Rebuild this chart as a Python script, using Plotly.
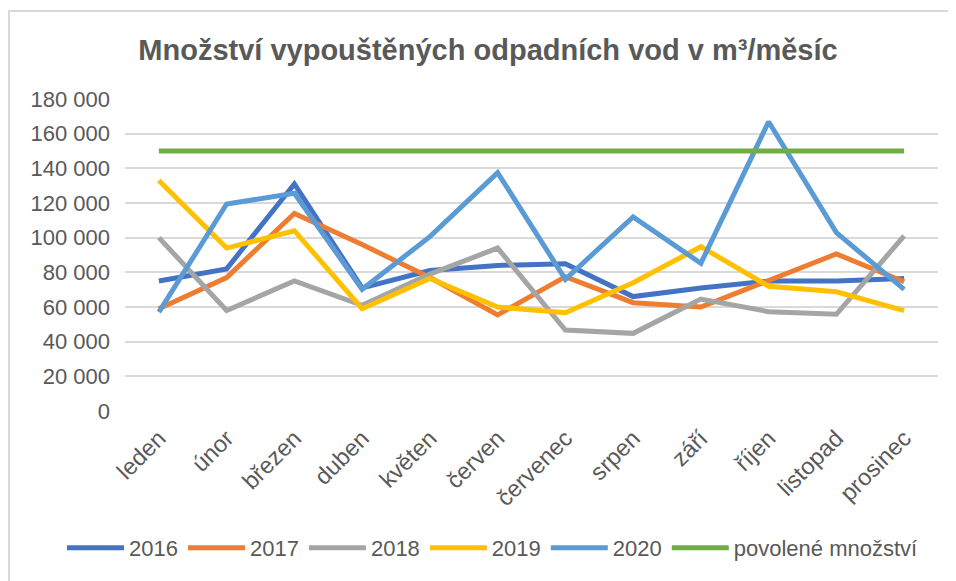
import plotly.graph_objects as go

months = ["leden", "únor", "březen", "duben", "květen", "červen",
          "červenec", "srpen", "září", "říjen", "listopad", "prosinec"]

v2016 = [75000, 82000, 131000, 71000, 81000, 84000, 85000, 66000, 71000, 75000, 75000, 76500]
v2017 = [59000, 77000, 114000, 96000, 77000, 55400, 77500, 62500, 60000, 75600, 90600, 74600]
v2018 = [100000, 58000, 75000, 61000, 79000, 94000, 46700, 44800, 64600, 57300, 55800, 101000]
v2019 = [133000, 94000, 104000, 59000, 76500, 60000, 56700, 74000, 94800, 72000, 68800, 57900]
v2020 = [57000, 119400, 125600, 70200, 100600, 137500, 76000, 112000, 85200, 166900, 102900, 70200]
limit = [150000] * 12

series_names = ["2016", "2017", "2018", "2019", "2020", "povolené množství"]
series_values = [v2016, v2017, v2018, v2019, v2020, limit]
series_colors = ["#4472C4", "#ED7D31", "#A5A5A5", "#FFC000", "#5B9BD5", "#70AD47"]

# page offset of the figure (default body margin)
OFF = 8
W, H = 956, 581
PW, PH = 813, 312
ML, MT = 125 - OFF, 99 - OFF
MR = W - ML - PW
MB = H - MT - PH

fig = go.Figure()
for name, vals, col in zip(series_names, series_values, series_colors):
    fig.add_trace(go.Scatter(
        x=months, y=vals, name=name, mode="lines",
        line=dict(color=col, width=5),
    ))

txt = "#595959"
font_family = "Liberation Sans, Arial, sans-serif"
border = "#D9D9D9"

fig.update_layout(
    width=W, height=H,
    margin=dict(l=ML, r=MR, t=MT, b=MB, autoexpand=False),
    paper_bgcolor="white", plot_bgcolor="white",
    separators=", ",
    font=dict(family=font_family, color=txt),
    title=dict(
        text="<b>Množství vypouštěných odpadních vod v m³/měsíc</b>",
        x=(488 - OFF) / W, xanchor="center", xref="container",
        y=1 - (50 - OFF) / H, yanchor="middle", yref="container",
        font=dict(size=29, color=txt, family=font_family),
    ),
    xaxis=dict(
        type="category", range=[-0.5, 11.5],
        showgrid=False, zeroline=False, showline=False,
        tickangle=-45, tickfont=dict(size=23.5, color=txt),
        ticks="", ticklabelstandoff=8,
    ),
    yaxis=dict(
        range=[0, 180000], dtick=20000, tick0=0,
        showgrid=True, gridcolor="#D9D9D9", gridwidth=1.5,
        zeroline=False, showline=False,
        tickformat=",d", tickfont=dict(size=22, color=txt),
        ticks="", ticklabelstandoff=14,
    ),
    legend=dict(
        orientation="h", xref="paper", yref="paper",
        x=(62 - OFF - ML) / PW, xanchor="left",
        y=(MT + PH - (548 - OFF)) / PH, yanchor="middle",
        font=dict(size=22, color=txt), traceorder="normal",
        itemwidth=57,
    ),
    showlegend=True,
    shapes=[
        dict(type="line", xref="paper", yref="paper",
             x0=(0 - ML) / PW, x1=(W - ML) / PW,
             y0=(PH + MT - (11 - OFF)) / PH, y1=(PH + MT - (11 - OFF)) / PH,
             line=dict(color=border, width=2), layer="below"),
        dict(type="line", xref="paper", yref="paper",
             x0=(1 - ML) / PW, x1=(1 - ML) / PW,
             y0=-(MB) / PH, y1=(PH + MT - (11 - OFF)) / PH,
             line=dict(color=border, width=2), layer="below"),
    ],
)

fig.write_html("out.html")
